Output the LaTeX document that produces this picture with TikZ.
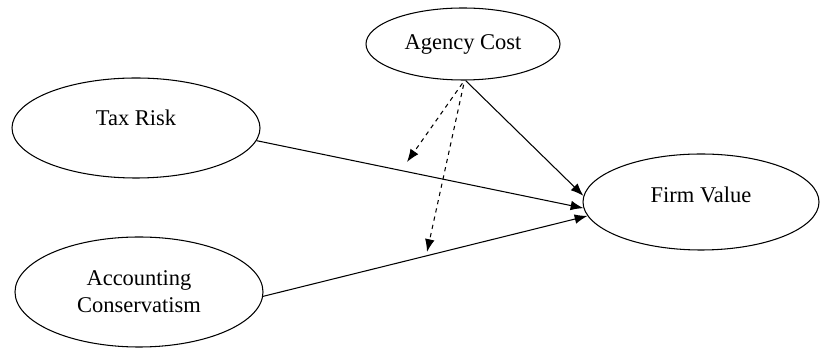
\documentclass[tikz,border=0pt]{standalone}
\usepackage{fontspec}
\setmainfont{Liberation Serif}
\usetikzlibrary{shapes.geometric,arrows.meta}

\tikzset{
	var/.style = {draw, ellipse, line width=.75pt, inner sep=0pt, align=center, font=\fontsize{16}{19}\selectfont},
	effect/.style = {line width=.75pt, -{Latex[length=3.2mm,width=2.4mm]}},
	moder/.style = {effect, dashed}
}

\begin{document}
\begin{tikzpicture}
	\useasboundingbox (0,0) rectangle (20.525,8.725);
	\node [var, minimum width=4.85cm, minimum height=1.8cm] (agency) at (11.575,7.625) {Agency Cost};
	\node [var, minimum width=6.2cm, minimum height=2.5cm, text depth=14pt] (tax) at (3.4,5.525) {Tax Risk};
	\node [var, minimum width=6.2cm, minimum height=2.75cm] (acc) at (3.475,1.425) {Accounting\\Conservatism};
	\node [var, minimum width=5.9cm, minimum height=2.4cm, text depth=11pt] (firm) at (17.525,3.675) {Firm Value};
	\coordinate (m1) at (10.175,4.675);
	\coordinate (m2) at (10.675,2.425);
	\draw [effect] (tax.-6) -- (firm.183);
	\draw [effect] (acc.-2) -- (firm.187);
	\draw [effect] (agency.-86) -- (firm.177);
	\draw [moder] ([yshift=-2pt]agency.-91) -- (m1);
	\draw [moder] ([yshift=-3pt]agency.-89) -- (m2);
\end{tikzpicture}
\end{document}
